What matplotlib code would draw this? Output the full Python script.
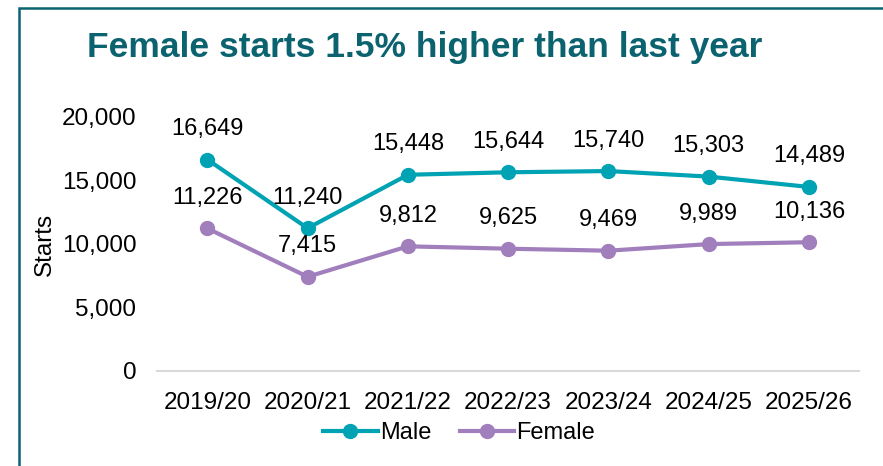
import numpy as np
import matplotlib.pyplot as plt
from matplotlib.patches import Rectangle

years = ['2019/20', '2020/21', '2021/22', '2022/23', '2023/24', '2024/25', '2025/26']
male = [16649, 11240, 15448, 15644, 15740, 15303, 14489]
female = [11226, 7415, 9812, 9625, 9469, 9989, 10136]

plt.rcParams['font.family'] = ['Liberation Sans', 'DejaVu Sans']

fig = plt.figure(figsize=(8.83, 4.66), dpi=100)
ax = fig.add_axes([0.178, 0.204, 0.795, 0.545])

x = np.arange(len(years))
ax.plot(x, male, color='#00A3B4', lw=3, marker='o', ms=10, label='Male')
ax.plot(x, female, color='#A07FBC', lw=3, marker='o', ms=10, label='Female')

# data labels above the points
for xs, ys in [(x, male), (x, female)]:
    for xi, yi in zip(xs, ys):
        ax.annotate(f'{yi:,}', (xi, yi), xytext=(0, 22), textcoords='offset points',
                    ha='center', va='center', fontsize=17, color='#000000')

ax.set_xlim(-0.5, len(years) - 0.5)
ax.set_ylim(0, 20000)
ax.set_yticks([0, 5000, 10000, 15000, 20000])
ax.set_yticklabels([f'{v:,}' for v in [0, 5000, 10000, 15000, 20000]])
ax.set_xticks(x)
ax.set_xticklabels(years)
ax.tick_params(length=0, labelsize=17.5)
ax.tick_params(axis='x', pad=15)
ax.tick_params(axis='y', pad=15)
for s in ['top', 'right', 'left']:
    ax.spines[s].set_visible(False)
ax.spines['bottom'].set_color('#D9D9D9')
ax.spines['bottom'].set_linewidth(1.5)
ax.set_ylabel('Starts', fontsize=17.5, labelpad=4)

fig.text(0.481, 0.899, 'Female starts 1.5% higher than last year', ha='center', va='center',
         fontsize=25.5, fontweight='bold', color='#0B6370')

fig.legend(loc='center', bbox_to_anchor=(0.52, 0.07), ncol=2, frameon=False, fontsize=17,
           handlelength=2.3, handletextpad=0.1, columnspacing=1.2)

# outer border of the chart area
fig.patches.append(Rectangle((19 / 883, -0.1), 1.2, 1.1 - 7.5 / 466, transform=fig.transFigure,
                             fill=False, edgecolor='#0B6370', lw=1.8))

fig.savefig('out.png', dpi=100)
